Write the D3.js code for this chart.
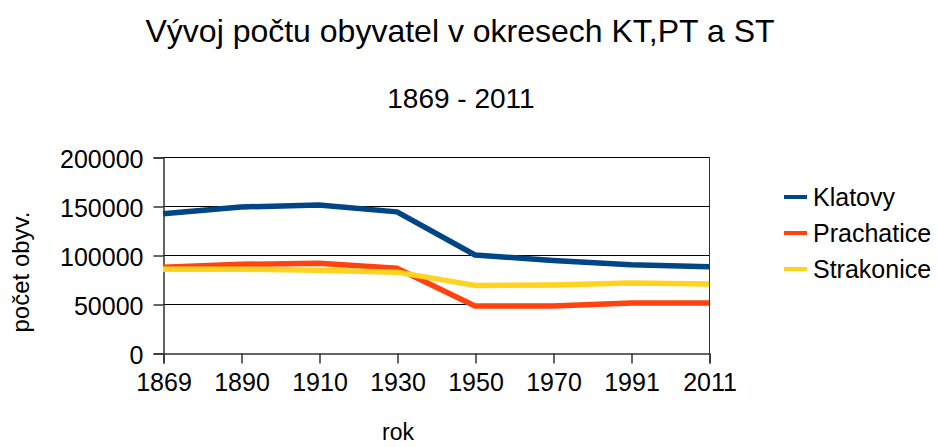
<!DOCTYPE html>
<html>
<head>
<meta charset="utf-8">
<script src="https://cdn.jsdelivr.net/npm/d3@7"></script>
<style>
  body { margin: 0; background: #fff; }
  svg text { font-family: "Liberation Sans", Arial, sans-serif; fill: #000; }
</style>
</head>
<body>
<div id="chart"></div>
<script>
const years = ["1869", "1890", "1910", "1930", "1950", "1970", "1991", "2011"];
const klatovy = [142000, 149000, 151000, 144000, 100000, 94500, 90000, 88000];
const prachatice = [87500, 90500, 91500, 86500, 48000, 48000, 51000, 51000];
const strakonice = [85500, 85500, 84500, 82500, 69000, 69500, 71500, 70500];
const seriesNames = ["Klatovy", "Prachatice", "Strakonice"];
const seriesColors = ["#004586", "#ff420e", "#ffd320"];
const yTicks = [0, 50000, 100000, 150000, 200000];

const width = 938, height = 447;
const plot = { left: 163, right: 709, top: 157, bottom: 353 };

const svg = d3.select("#chart").append("svg")
  .attr("width", width)
  .attr("height", height);

const x = d3.scalePoint().domain(years).range([plot.left, plot.right]);
const y = d3.scaleLinear().domain([0, 200000]).range([plot.bottom, plot.top]);

// gridlines
svg.append("g")
  .selectAll("line")
  .data(yTicks.slice(1))
  .enter()
  .append("line")
  .attr("x1", plot.left)
  .attr("x2", plot.right)
  .attr("y1", d => Math.round(y(d)) + 0.5)
  .attr("y2", d => Math.round(y(d)) + 0.5)
  .attr("stroke", "#000")
  .attr("stroke-width", 1);

// right border
svg.append("line")
  .attr("x1", plot.right + 0.5).attr("x2", plot.right + 0.5)
  .attr("y1", plot.top).attr("y2", plot.bottom)
  .attr("stroke", "#333");

// y axis
const yAxis = svg.append("g")
  .attr("transform", `translate(${plot.left + 0.5},0.5)`)
  .call(d3.axisLeft(y).tickValues(yTicks).tickSize(10).tickPadding(10).tickFormat(d3.format("d")));
yAxis.select(".domain").attr("stroke", "#333").attr("stroke-width", 1.5);
yAxis.selectAll(".tick line").attr("stroke", "#333").attr("stroke-width", 1.5);
yAxis.selectAll("text")
  .style("font-size", "25px")
  .attr("dy", "0.4em");

// x axis
const xAxis = svg.append("g")
  .attr("transform", `translate(0.5,${plot.bottom + 0.5})`)
  .call(d3.axisBottom(x).tickSize(10).tickPadding(10));
xAxis.select(".domain").attr("stroke", "#333").attr("stroke-width", 1.5);
xAxis.selectAll(".tick line").attr("stroke", "#333").attr("stroke-width", 1.5);
xAxis.selectAll("text")
  .style("font-size", "25px")
  .attr("dy", "0.71em");

// lines
const line = d3.line()
  .x((d, i) => x(years[i]))
  .y(d => y(d));

[klatovy, prachatice, strakonice].forEach((vals, i) => {
  svg.append("path")
    .datum(vals)
    .attr("d", line)
    .attr("fill", "none")
    .attr("stroke", seriesColors[i])
    .attr("stroke-width", 5.5)
    .attr("stroke-linejoin", "round");
});

// titles
svg.append("text")
  .attr("x", 460)
  .attr("y", 42)
  .attr("text-anchor", "middle")
  .style("font-size", "32px")
  .text("Vývoj počtu obyvatel v okresech KT,PT a ST");

svg.append("text")
  .attr("x", 461)
  .attr("y", 108)
  .attr("text-anchor", "middle")
  .style("font-size", "28px")
  .text("1869 - 2011");

svg.append("text")
  .attr("x", 398)
  .attr("y", 440)
  .attr("text-anchor", "middle")
  .style("font-size", "23px")
  .text("rok");

svg.append("text")
  .attr("transform", "translate(29,272) rotate(-90)")
  .attr("text-anchor", "middle")
  .style("font-size", "24px")
  .text("počet obyv.");

// legend
const legend = svg.append("g").attr("transform", "translate(784,197)");
seriesNames.forEach((name, i) => {
  const g = legend.append("g").attr("transform", `translate(0,${i * 36})`);
  g.append("line")
    .attr("x1", 0).attr("x2", 23)
    .attr("stroke", seriesColors[i])
    .attr("stroke-width", 4);
  g.append("text")
    .attr("x", 29)
    .attr("y", 9)
    .style("font-size", "25px")
    .text(name);
});
</script>
</body>
</html>
